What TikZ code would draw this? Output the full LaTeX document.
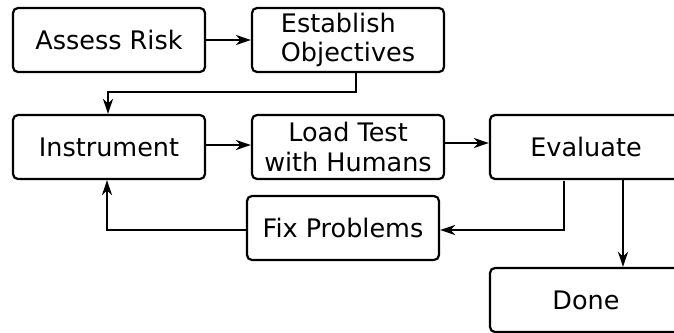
\documentclass[tikz,border=0pt]{standalone}
\usepackage{fontspec}
\setmainfont{DejaVu Sans}
\usetikzlibrary{arrows.meta}
\begin{document}
\begin{tikzpicture}[x=1pt,y=-1pt,
  box/.style={draw,line width=2.2pt,rounded corners=5pt,minimum width=192pt,minimum height=64pt,inner sep=0pt,align=center,font=\fontsize{25.5}{29.5}\selectfont},
  conn/.style={line width=2.2pt,-{Stealth[length=15pt,width=10pt,inset=4.5pt]}}]
\useasboundingbox (0,0) rectangle (674,332);
\clip (0,0) rectangle (674,332);
\node[box] (assess) at (109,40) {Assess Risk};
\node[box,align=left] (estab) at (348,40) {Establish\\Objectives};
\node[box] (instr) at (109,147) {Instrument};
\node[box] (load) at (348,147) {Load Test\\with Humans};
\node[box] (eval) at (586,147) {Evaluate};
\node[box] (fix) at (343,228) {Fix Problems};
\node[box] (done) at (586,300) {Done};
\coordinate (c1) at (356,92);
\coordinate (c2) at (564,181);
\draw[conn] (assess) -- (estab);
\draw[conn] ([xshift=8pt]estab.south) |- (c1) -| ([xshift=-1pt]instr.north);
\draw[conn] ([yshift=2pt]instr.east) -- ([yshift=2pt]load.west);
\draw[conn] ([yshift=4pt]load.east) -- ([yshift=4pt]eval.west);
\draw[conn] (c2) |- ([yshift=-2pt]fix.east);
\draw[conn] ([yshift=-2pt]fix.west) -| ([xshift=-2pt]instr.south);
\draw[conn] ([xshift=37pt]eval.south) -- ([xshift=37pt]done.north);
\end{tikzpicture}
\end{document}
